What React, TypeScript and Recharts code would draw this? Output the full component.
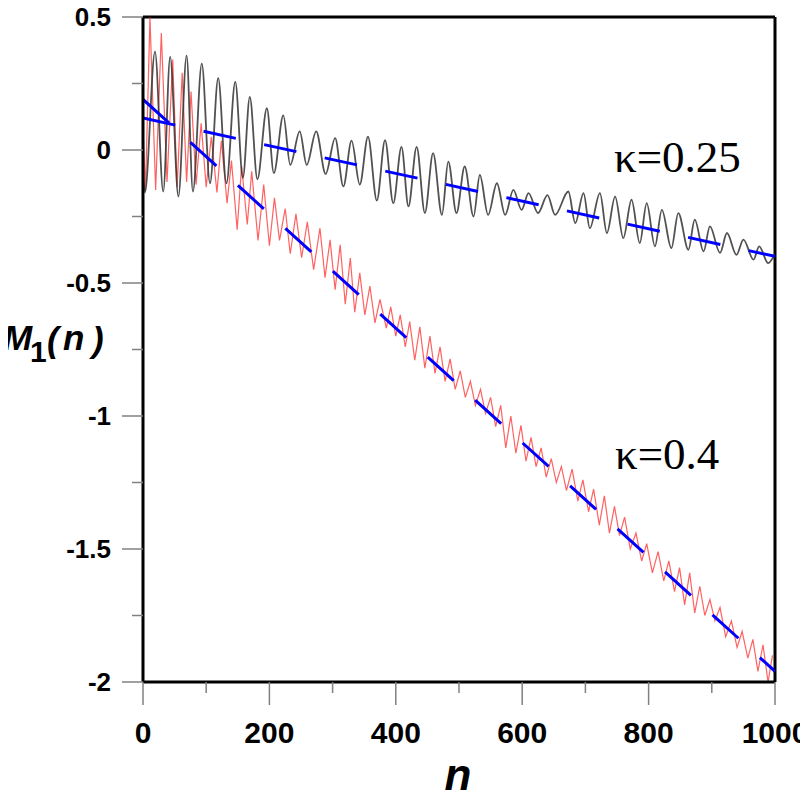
import { LineChart, Line, XAxis, YAxis, ReferenceLine } from "recharts";

// kappa = 0.25 run (black), peaks and troughs
const blackN = [0, 3, 19, 32, 43, 56, 69, 79, 93, 106, 119, 132, 146, 158, 169, 181, 196, 207, 222, 233, 248, 259, 274, 289, 304, 317, 330, 343, 356, 370, 383, 396, 409, 420, 433, 446, 459, 473, 483, 496, 509, 523, 533, 546, 560, 573, 586, 599, 610, 625, 640, 652, 673, 684, 697, 707, 723, 734, 747, 760, 773, 786, 797, 810, 821, 836, 847, 863, 873, 887, 897, 913, 924, 939, 950, 966, 975, 989, 1000];
const blackM = [-0.06, -0.16, 0.37, -0.156, 0.35, -0.175, 0.355, -0.156, 0.325, -0.125, 0.27, -0.125, 0.256, -0.105, 0.2, -0.11, 0.157, -0.087, 0.13, -0.056, 0.07, -0.056, 0.07, -0.09, 0.045, -0.137, 0.035, -0.13, 0.05, -0.19, 0.037, -0.2, 0.012, -0.212, 0.012, -0.237, -0.012, -0.244, -0.044, -0.237, -0.062, -0.25, -0.094, -0.244, -0.125, -0.244, -0.15, -0.225, -0.162, -0.237, -0.17, -0.244, -0.156, -0.275, -0.162, -0.294, -0.162, -0.312, -0.175, -0.331, -0.187, -0.35, -0.2, -0.362, -0.225, -0.369, -0.237, -0.375, -0.262, -0.381, -0.287, -0.387, -0.312, -0.394, -0.337, -0.412, -0.362, -0.425, -0.39];

// kappa = 0.4 run (red)
const redN = [0, 4, 11, 20, 29, 38, 47, 54, 62, 69, 76, 84, 92, 100, 108, 117, 124, 133, 140, 149, 156, 165, 172, 182, 191, 200, 208, 216, 225, 233, 242, 251, 260, 270, 280, 288, 296, 304, 312, 320, 328, 335, 343, 351, 359, 367, 375, 385, 392, 400, 407, 415, 422, 430, 438, 446, 454, 462, 470, 478, 486, 494, 502, 510, 518, 526, 534, 542, 550, 558, 566, 574, 582, 590, 598, 606, 614, 622, 630, 638, 646, 654, 662, 670, 679, 688, 696, 705, 713, 722, 730, 738, 746, 754, 762, 771, 780, 789, 797, 806, 815, 824, 832, 841, 849, 857, 865, 873, 881, 889, 897, 905, 913, 922, 931, 940, 948, 957, 965, 973, 981, 989, 996];
const redM = [0.08, -0.15, 0.5, -0.15, 0.44, -0.12, 0.34, -0.14, 0.29, -0.12, 0.22, -0.13, 0.1, -0.14, 0.05, -0.16, 0.035, -0.2, -0.04, -0.3, -0.06, -0.28, -0.08, -0.34, -0.13, -0.36, -0.18, -0.34, -0.22, -0.39, -0.24, -0.405, -0.27, -0.45, -0.294, -0.48, -0.338, -0.525, -0.356, -0.58, -0.406, -0.61, -0.462, -0.62, -0.512, -0.65, -0.562, -0.67, -0.59, -0.7, -0.62, -0.74, -0.645, -0.79, -0.665, -0.82, -0.7, -0.84, -0.74, -0.87, -0.785, -0.9, -0.83, -0.93, -0.87, -0.96, -0.9, -0.99, -0.93, -1.04, -0.96, -1.12, -1.0, -1.14, -1.035, -1.17, -1.08, -1.19, -1.12, -1.23, -1.16, -1.25, -1.19, -1.28, -1.2, -1.32, -1.24, -1.36, -1.275, -1.41, -1.3, -1.44, -1.34, -1.45, -1.38, -1.5, -1.44, -1.545, -1.48, -1.59, -1.51, -1.62, -1.545, -1.66, -1.57, -1.71, -1.59, -1.74, -1.64, -1.75, -1.69, -1.77, -1.72, -1.83, -1.77, -1.87, -1.81, -1.91, -1.84, -1.96, -1.86, -2.0, -1.9];

// straight-line fits (blue dashed)
const fitN = [0, 1000];
const fit025 = [0.12, -0.4];
const fit04 = [0.19, -1.96];

const xTicks = [0, 100, 200, 300, 400, 500, 600, 700, 800, 900, 1000];
const yTicks = [-2, -1.75, -1.5, -1.25, -1, -0.75, -0.5, -0.25, 0, 0.25, 0.5];

const toPoints = (ns: number[], ms: number[]) => ns.map((n, i) => ({ n, m: ms[i] }));

const SANS = "'Liberation Sans', Arial, sans-serif";
const SERIF = "'Liberation Serif', 'Times New Roman', serif";

function XTick(props: any) {
  const { x, y, payload } = props;
  const v = payload.value;
  const major = v % 200 === 0;
  return (
    <g>
      <line x1={x} x2={x} y1={y} y2={y + (major ? 23 : 11)} stroke="#808080" strokeWidth={1.5} />
      {major && (
        <text x={x} y={y + 61} textAnchor="middle" fontFamily={SANS} fontWeight="bold" fontSize={30} fill="#000">
          {v}
        </text>
      )}
    </g>
  );
}

function YTick(props: any) {
  const { x, y, payload } = props;
  const v = payload.value;
  const major = Math.abs(v * 2 - Math.round(v * 2)) < 1e-6;
  return (
    <g>
      <line x1={x} x2={x - (major ? 21 : 11)} y1={y} y2={y} stroke="#808080" strokeWidth={1.5} />
      {major && (
        <text x={x - 32} y={y + 9} textAnchor="end" fontFamily={SANS} fontWeight="bold" fontSize={26} fill="#000">
          {String(v)}
        </text>
      )}
    </g>
  );
}

export default function App() {
  return (
    <div style={{ position: "relative", width: 808, height: 801, margin: -8, background: "#fff" }}>
      <LineChart width={808} height={801} margin={{ top: 17, right: 33, bottom: 0, left: 0 }}>
        <XAxis
          type="number"
          dataKey="n"
          domain={[0, 1000]}
          ticks={xTicks}
          interval={0}
          allowDataOverflow
          height={119}
          tickSize={0}
          tickMargin={0}
          tickLine={false}
          axisLine={{ stroke: "#000", strokeWidth: 3 }}
          tick={<XTick />}
        />
        <YAxis
          type="number"
          domain={[-2, 0.5]}
          ticks={yTicks}
          interval={0}
          allowDataOverflow
          width={143}
          tickSize={0}
          tickMargin={0}
          tickLine={false}
          axisLine={{ stroke: "#000", strokeWidth: 3 }}
          tick={<YTick />}
        />
        <ReferenceLine y={0.5} stroke="#000" strokeWidth={3} />
        <ReferenceLine x={1000} stroke="#000" strokeWidth={3} />

        {/* oscillating runs */}
        <Line data={toPoints(redN, redM)} dataKey="m" type="linear" stroke="#ff2020" strokeOpacity={0.7} strokeWidth={1.2} dot={false} activeDot={false} isAnimationActive={false} />
        <Line data={toPoints(blackN, blackM)} dataKey="m" type="monotone" stroke="#333" strokeOpacity={0.85} strokeWidth={1.8} dot={false} activeDot={false} isAnimationActive={false} />

        {/* linear fits */}
        <Line data={toPoints(fitN, fit025)} dataKey="m" type="linear" stroke="#0000ff" strokeWidth={3} strokeDasharray="33 29" dot={false} activeDot={false} isAnimationActive={false} />
        <Line data={toPoints(fitN, fit04)} dataKey="m" type="linear" stroke="#0000ff" strokeWidth={3} strokeDasharray="35 29" dot={false} activeDot={false} isAnimationActive={false} />
      </LineChart>

      <svg width={808} height={801} style={{ position: "absolute", left: 0, top: 0, pointerEvents: "none", overflow: "visible" }}>
        <text x={3} y={350} fontFamily={SANS} fontWeight="bold" fontStyle="italic" fontSize={35} fill="#000">M</text>
        <text x={30} y={362} fontFamily={SANS} fontWeight="bold" fontSize={30} fill="#000">1</text>
        <text x={47} y={352} fontFamily={SANS} fontWeight="bold" fontStyle="italic" fontSize={35} fill="#000">(</text>
        <text x={63} y={350} fontFamily={SANS} fontWeight="bold" fontStyle="italic" fontSize={35} fill="#000">n</text>
        <text x={92} y={352} fontFamily={SANS} fontWeight="bold" fontStyle="italic" fontSize={35} fill="#000">)</text>
        <text x={458} y={790} textAnchor="middle" fontFamily={SANS} fontWeight="bold" fontStyle="italic" fontSize={44} fill="#000">
          n
        </text>
        <text x={614} y={172} fontFamily={SERIF} fontSize={45} fill="#000">
          κ=0.25
        </text>
        <text x={615} y={469} fontFamily={SERIF} fontSize={45} fill="#000">
          κ=0.4
        </text>
      </svg>
    </div>
  );
}
